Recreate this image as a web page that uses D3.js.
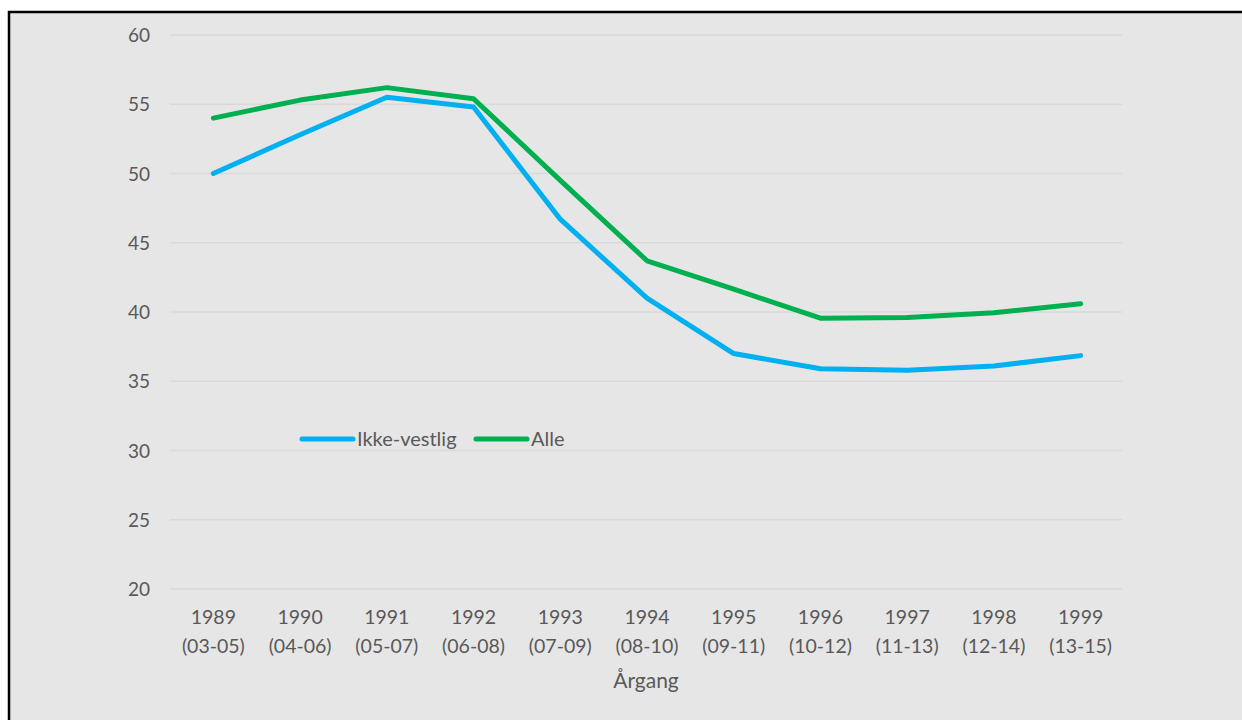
<!DOCTYPE html>
<html>
<head>
<meta charset="utf-8">
<script src="https://cdn.jsdelivr.net/npm/d3@7"></script>
<style>
  html, body { margin: 0; padding: 0; background: #fff; }
  svg { display: block; }
  text { font-family: Lato, "Open Sans", sans-serif; fill: #595959; }
</style>
</head>
<body>
<div id="chart"></div>
<script>
// data
const years = ["1989", "1990", "1991", "1992", "1993", "1994", "1995", "1996", "1997", "1998", "1999"]
const spans = ["(03-05)", "(04-06)", "(05-07)", "(06-08)", "(07-09)", "(08-10)", "(09-11)", "(10-12)", "(11-13)", "(12-14)", "(13-15)"]
const ikkeVestlig = [50.0, 52.8, 55.5, 54.8, 46.7, 41.0, 37.0, 35.9, 35.8, 36.1, 36.85]
const alle = [54.0, 55.3, 56.2, 55.4, 49.5, 43.7, 41.65, 39.55, 39.6, 39.95, 40.6]
const yTicks = [20, 25, 30, 35, 40, 45, 50, 55, 60]

const series = [
    {name: "Ikke-vestlig", values: ikkeVestlig, color: "#00b0f0"},
    {name: "Alle", values: alle, color: "#00b050"}
]

const width = 1242, height = 720
const svg = d3.select("#chart").append("svg")
    .attr("width", width)
    .attr("height", height)

// chart area background + frame
svg.append("rect")
    .attr("x", 9).attr("y", 12)
    .attr("width", width + 10).attr("height", height + 10)
    .attr("fill", "#e6e6e6")
    .attr("stroke", "#000")
    .attr("stroke-width", 2.5)

const x = d3.scaleBand().domain(years).range([170, 1124])
const y = d3.scaleLinear().domain([20, 60]).range([589, 35])
const cx = d => x(d) + x.bandwidth() / 2

// gridlines
svg.append("g")
    .selectAll("line")
    .data(yTicks)
    .enter()
    .append("line")
    .attr("x1", 170).attr("x2", 1122)
    .attr("y1", d => y(d)).attr("y2", d => y(d))
    .attr("stroke", "#d9d9d9")
    .attr("stroke-width", 1.5)

// y axis labels
const yAxis = svg.append("g")
    .attr("transform", "translate(150,0)")
    .call(d3.axisLeft(y).tickValues(yTicks).tickSize(0).tickPadding(0))
yAxis.select(".domain").remove()
yAxis.selectAll("text")
    .attr("font-size", 19)
    .attr("font-family", null)
    .attr("fill", "#595959")
    .attr("dy", "0.35em")

// x axis labels (two lines)
const xAxis = svg.append("g")
    .attr("transform", "translate(0,589)")
    .call(d3.axisBottom(x).tickSize(0).tickFormat(""))
xAxis.select(".domain").remove()
xAxis.selectAll(".tick").each(function (d, i) {
    const t = d3.select(this).append("text")
        .attr("text-anchor", "middle")
        .attr("font-size", 19.5)
        .attr("fill", "#595959")
    t.append("tspan").attr("x", 0).attr("y", 35).text(years[i])
    t.append("tspan").attr("x", 0).attr("y", 64).text(spans[i])
})

svg.append("text")
    .attr("x", 646).attr("y", 688)
    .attr("text-anchor", "middle")
    .attr("font-size", 21)
    .text("Årgang")

// lines
const line = d3.line()
    .x((d, i) => cx(years[i]))
    .y(d => y(d))

svg.append("g")
    .selectAll("path")
    .data(series)
    .enter()
    .append("path")
    .attr("d", d => line(d.values))
    .attr("fill", "none")
    .attr("stroke", d => d.color)
    .attr("stroke-width", 5)
    .attr("stroke-linecap", "round")
    .attr("stroke-linejoin", "round")

// legend
const legend = svg.append("g")
    .selectAll("g")
    .data(series)
    .enter()
    .append("g")
    .attr("transform", (d, i) => `translate(${i === 0 ? 302 : 476}, 439)`)
legend.append("line")
    .attr("x1", 0).attr("x2", 51)
    .attr("stroke", d => d.color)
    .attr("stroke-width", 5)
    .attr("stroke-linecap", "round")
legend.append("text")
    .attr("x", 55).attr("dy", "0.35em")
    .attr("font-size", 20)
    .text(d => d.name)
</script>
</body>
</html>
